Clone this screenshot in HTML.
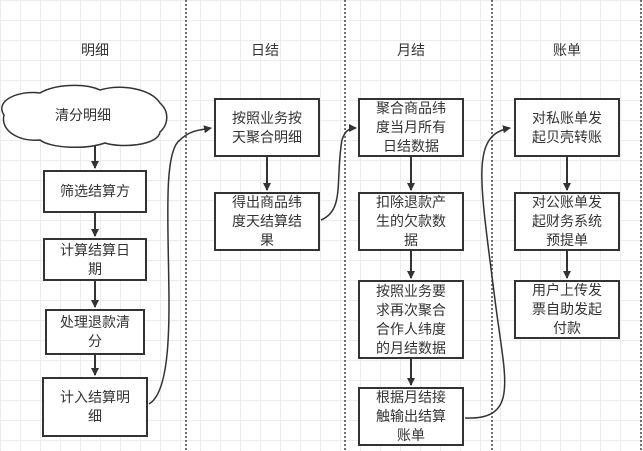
<!DOCTYPE html>
<html><head><meta charset="utf-8"><style>
html,body{margin:0;padding:0;}
body{width:643px;height:451px;overflow:hidden;background:#fff;
background-image:linear-gradient(#ececec 1px,transparent 1px),linear-gradient(90deg,#ececec 1px,transparent 1px);
background-size:20px 20px;font-family:"Liberation Sans","Noto Sans CJK SC",sans-serif;}
.b{position:absolute;border:2px solid #333;background:#fff;box-sizing:border-box;display:flex;align-items:center;justify-content:center;text-align:center;font-size:14px;line-height:19px;color:#333;padding:0 15px;word-break:break-all;}
.h{position:absolute;top:40px;font-size:14px;color:#333;transform:translateX(-50%);}
svg{position:absolute;left:0;top:0;}
</style></head><body>
<svg width="643" height="451">
<defs><marker id="a" markerWidth="8" markerHeight="8" refX="7" refY="4" orient="auto" markerUnits="userSpaceOnUse"><path d="M0,0 L8,4 L0,8 z" fill="#333"/></marker></defs>
<g stroke="#444" stroke-width="1.5" stroke-dasharray="2,2">
<line x1="186" y1="0" x2="186" y2="451"/><line x1="345" y1="0" x2="345" y2="451"/><line x1="492" y1="0" x2="492" y2="451"/><line x1="641" y1="0" x2="641" y2="451"/></g>
<path d="M4,115 C-6,100 20,90 40,93 C55,84 85,83 100,90 C120,84 150,88 160,103 C170,112 168,125 160,132 C158,146 120,148 105,143 C85,150 50,148 40,140 C18,142 0,130 4,115 Z" fill="#fff" stroke="#333" stroke-width="1.5"/>
<g stroke="#333" stroke-width="2" fill="none">
<line x1="95" y1="146" x2="95" y2="168" marker-end="url(#a)"/>
<line x1="95" y1="212" x2="95" y2="236" marker-end="url(#a)"/>
<line x1="95" y1="281" x2="95" y2="307" marker-end="url(#a)"/>
<line x1="95" y1="355" x2="95" y2="375" marker-end="url(#a)"/>
<line x1="267" y1="157" x2="267" y2="190" marker-end="url(#a)"/>
<line x1="411" y1="157" x2="411" y2="190" marker-end="url(#a)"/>
<line x1="411" y1="251" x2="411" y2="278" marker-end="url(#a)"/>
<line x1="411" y1="359" x2="411" y2="385" marker-end="url(#a)"/>
<line x1="567" y1="157" x2="567" y2="190" marker-end="url(#a)"/>
<line x1="567" y1="251" x2="567" y2="278" marker-end="url(#a)"/>
<path d="M149,404 C190,380 150,160 180,140 C190,130 200,130 211,128" stroke-width="1.5" marker-end="url(#a)"/>
<path d="M321,220 C345,210 335,180 342,140 C345,130 350,128 356,128" stroke-width="1.5" marker-end="url(#a)"/>
<path d="M465,418 C520,420 505,380 495,300 C480,180 470,135 510,128" stroke-width="1.5" marker-end="url(#a)"/>
</g>
<text x="83" y="120" font-size="14" fill="#333" text-anchor="middle" font-family="Liberation Sans,Noto Sans CJK SC,sans-serif">清分明细</text>
</svg>
<div class="h" style="left:95px">明细</div>
<div class="h" style="left:265px">日结</div>
<div class="h" style="left:411px">月结</div>
<div class="h" style="left:567px">账单</div>
<div class="b" style="left:43px;top:170px;width:104px;height:43px">筛选结算方</div>
<div class="b" style="left:43px;top:238px;width:104px;height:43px">计算结算日期</div>
<div class="b" style="left:45px;top:309px;width:100px;height:46px;padding:0 12px">处理退款清分</div>
<div class="b" style="left:42px;top:377px;width:106px;height:60px">计入结算明细</div>
<div class="b" style="left:214px;top:98px;width:106px;height:59px">按照业务按天聚合明细</div>
<div class="b" style="left:214px;top:192px;width:106px;height:59px">得出商品纬度天结算结果</div>
<div class="b" style="left:358px;top:98px;width:106px;height:59px">聚合商品纬度当月所有日结数据</div>
<div class="b" style="left:358px;top:192px;width:106px;height:59px">扣除退款产生的欠款数据</div>
<div class="b" style="left:358px;top:280px;width:106px;height:79px">按照业务要求再次聚合合作人纬度的月结数据</div>
<div class="b" style="left:358px;top:387px;width:106px;height:59px">根据月结接触输出结算账单</div>
<div class="b" style="left:514px;top:98px;width:106px;height:59px">对私账单发起贝壳转账</div>
<div class="b" style="left:514px;top:192px;width:106px;height:59px">对公账单发起财务系统预提单</div>
<div class="b" style="left:514px;top:280px;width:106px;height:59px">用户上传发票自助发起付款</div>
</body></html>
